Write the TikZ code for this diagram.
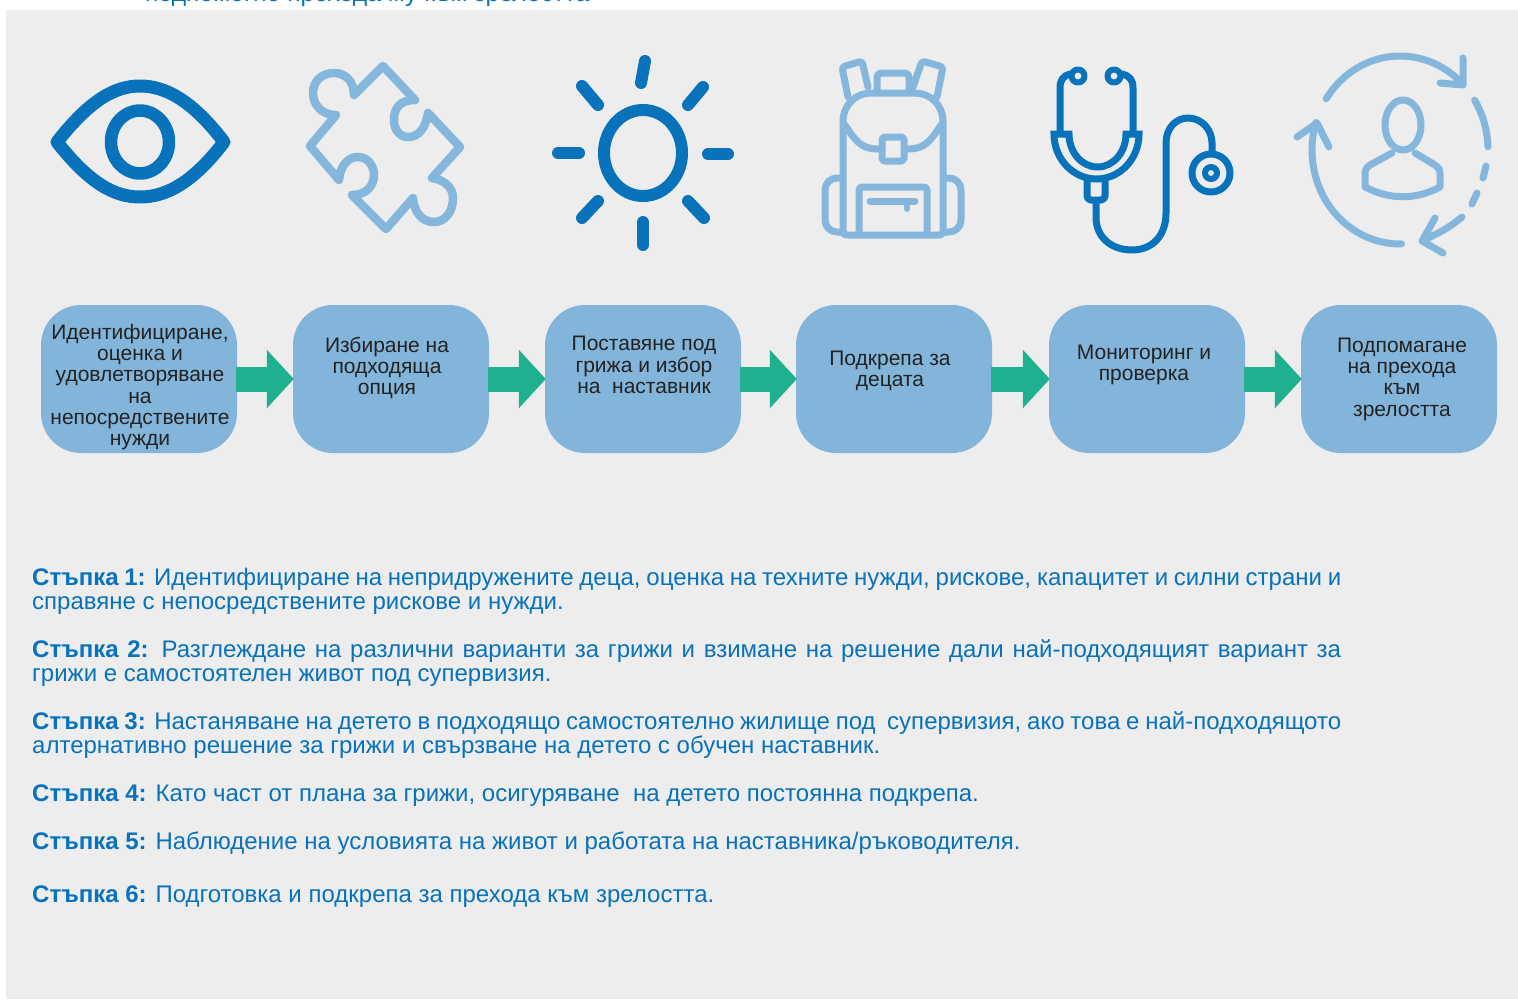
\documentclass[tikz,border=0pt]{standalone}
\usepackage{fontspec}
\setmainfont{Liberation Sans}
\usetikzlibrary{arrows.meta}
\definecolor{panelgray}{HTML}{EDEDED}
\definecolor{iconblue}{HTML}{0872BA}
\definecolor{iconlight}{HTML}{85B7DD}
\definecolor{boxblue}{HTML}{83B5DB}
\definecolor{flowgreen}{HTML}{1FB08F}
\definecolor{boxink}{HTML}{222222}
\tikzset{
  flowbox/.style={fill=boxblue, rounded corners=40pt, minimum width=196pt, minimum height=148pt, inner sep=0pt},
  flowlabel/.style={text=boxink, align=center, inner sep=0pt, font=\fontsize{21}{21.3}\selectfont},
  steptext/.style={text=iconblue, align=left, inner sep=0pt, anchor=north west, font=\fontsize{24}{24}\selectfont},
  flowarrow/.style={-{Triangle[length=27pt, width=57pt]}, line width=25pt, flowgreen, shorten <=-1pt, shorten >=-1pt},
  darkline/.style={iconblue, line width=7pt, line cap=round, line join=round},
  lightline/.style={iconlight, line width=7pt, line cap=round, line join=round},
}
\newcommand{\stepline}[1]{\makebox[1309pt][s]{#1}}
\begin{document}
\begin{tikzpicture}[x=1pt, y=-1pt]
        \useasboundingbox (0,0) rectangle (1518,999);
        % Draw the panel
        \fill[panelgray] (6,10) rectangle (1518,999);
        % Draw the cut-off line above the panel
        \node[anchor=base west, text=iconblue, inner sep=0pt, font=\fontsize{24.7}{24}\selectfont] (topline) at (145,1) {подпомогне прехода му към зрелостта};
        % Draw the eye
        \draw[darkline, line width=13pt] (57,142) .. controls (90,100) and (115,86) .. (140,86) .. controls (165,86) and (192,100) .. (224,142) .. controls (192,184) and (165,197) .. (140,197) .. controls (115,197) and (90,184) .. (57,142) -- cycle;
        \draw[darkline, line width=12.5pt] (140,142) ellipse (29 and 31.5);
        % Draw the puzzle piece
        \draw[lightline, line width=8.5pt] (354,95) -- (383,66) -- (415,100) .. controls (400,100) and (394,108) .. (394,120) .. controls (394,130) and (400,137) .. (408,137) .. controls (420,137) and (426,126) .. (428,113) -- (460,147) -- (432,178) .. controls (445,180) and (453,188) .. (453,198) .. controls (453,212) and (445,222) .. (434,222) .. controls (422,222) and (414,212) .. (413,198) -- (386,229) -- (352,195) .. controls (366,195) and (374,186) .. (374,175) .. controls (374,165) and (367,157) .. (358,157) .. controls (347,157) and (340,167) .. (339,180) -- (310,146) -- (336,115) .. controls (322,115) and (313,105) .. (313,93) .. controls (313,81) and (322,73) .. (334,73) .. controls (346,73) and (354,82) .. (354,95);
        % Draw the sun
        \draw[darkline, line width=12pt] (643,153) ellipse (39 and 43);
        \foreach \xa/\ya/\xb/\yb in {645/61/641/83, 582/86/598/105, 703/87/688/105, 558/153/579/153, 708/154/728/154, 598/201/582/218, 688/201/704/218, 643/222/643/245}{
            \draw[darkline, line width=12pt] (\xa,\ya) -- (\xb,\yb);
        }
        % Draw the backpack
        \draw[lightline] (843,232) -- (843,122) .. controls (843,105) and (855,93) .. (872,93) -- (914,93) .. controls (931,93) and (943,105) .. (943,122) -- (943,232) .. controls (943,235) and (940,235) .. (938,235) -- (848,235) .. controls (845,235) and (843,235) .. (843,232);
        \draw[lightline] (845,125) .. controls (856,142) and (862,149) .. (878,149) -- (882,149);
        \draw[lightline] (904,149) -- (908,149) .. controls (924,149) and (930,142) .. (941,125);
        \draw[lightline, rounded corners=3pt] (882,137) rectangle (904,161);
        \draw[lightline, rounded corners=4pt] (877,90) -- (877,73) -- (909,73) -- (909,90);
        \draw[lightline, rounded corners=3pt] (848,97) -- (842,67) -- (862,61) -- (868,87);
        \draw[lightline, rounded corners=3pt] (913,87) -- (922,61) -- (943,67) -- (937,97);
        \draw[lightline, rounded corners=12pt] (842,178) -- (825,178) -- (825,232) -- (842,232);
        \draw[lightline, rounded corners=12pt] (945,178) -- (961,178) -- (961,232) -- (945,232);
        \draw[lightline, rounded corners=3pt] (859,232) -- (859,187) -- (927,187) -- (927,232);
        \draw[lightline] (870,201) -- (915,201);
        \draw[lightline, line width=6pt] (907,201) -- (907,209);
        % Draw the stethoscope
        \draw[darkline, line width=6pt] (1078,76) circle (6.5);
        \draw[darkline, line width=6pt] (1114,76) circle (6.5);
        \draw[darkline] (1070,74) .. controls (1063,76) and (1060,80) .. (1060,88) -- (1060,132);
        \draw[darkline] (1122,74) .. controls (1130,76) and (1133,80) .. (1133,88) -- (1133,132);
        \draw[darkline, line join=miter, line cap=butt] (1069,134) -- (1054,134) arc[start angle=180, end angle=0, x radius=42.5, y radius=45] -- (1126,134) arc[start angle=0, end angle=180, x radius=28.5, y radius=33] -- cycle;
        \draw[darkline, rounded corners=4pt] (1087,182) -- (1087,200) -- (1105,200) -- (1105,182);
        \draw[darkline] (1096,203) -- (1096,217) .. controls (1096,238) and (1112,250) .. (1132,250) .. controls (1152,250) and (1166,236) .. (1166,213) -- (1166,143) .. controls (1166,128) and (1176,118) .. (1188,118) .. controls (1202,118) and (1212,130) .. (1212,143) -- (1212,152);
        \draw[darkline] (1211,173) circle (19);
        \draw[darkline, line width=6pt] (1211,173) circle (6);
        % Draw the cycle of arrows round the person
        \draw[lightline] (1400,150) ++(-147:88 and 94) arc[start angle=-147, end angle=-47, x radius=88, y radius=94];
        \draw[lightline] (1463,58) -- (1463,85) -- (1440,83);
        \draw[lightline] (1400,150) ++(-32:88 and 94) arc[start angle=-32, end angle=-2, x radius=88, y radius=94];
        \draw[lightline] (1486,166) -- (1483,178);
        \draw[lightline] (1477,193) -- (1472,204);
        \draw[lightline] (1462,217) .. controls (1450,227) and (1438,234) .. (1423,240);
        \draw[lightline] (1435,218) -- (1422,241) -- (1443,253);
        \draw[lightline] (1400,150) ++(89:88 and 94) arc[start angle=89, end angle=197, x radius=88, y radius=94];
        \draw[lightline] (1297,137) -- (1317,123) -- (1329,147);
        % Draw the person
        \draw[lightline] (1403,125) ellipse (18 and 25);
        \draw[lightline] (1392,153) -- (1370,165) .. controls (1366,168) and (1365,170) .. (1365,174) -- (1365,187) .. controls (1390,200) and (1416,200) .. (1440,187) -- (1440,174) .. controls (1440,170) and (1439,168) .. (1435,165) -- (1415,153);
        % Draw the boxes and their texts
        \foreach \n/\x/\dx/\dy/\txt in {
            1/139/1/8/{Идентифициране,\\оценка и\\удовлетворяване\\на\\непосредствените\\нужди},
            2/391/-4/-11/{Избиране на\\подходяща\\опция},
            3/643/1/-14/{Поставяне под\\грижа и избор\\на\ \ наставник},
            4/894/-4/-8/{Подкрепа за\\децата},
            5/1147/-3/-14/{Мониторинг и\\проверка},
            6/1399/3/0/{Подпомагане\\на прехода\\към\\зрелостта}}{
            \node[flowbox] (box\n) at (\x,379) {};
            \node[flowlabel] (label\n) at ([xshift=\dx pt, yshift=-\dy pt]box\n.center) {\txt};
        }
        % Draw the arrows between the boxes
        \foreach \a/\b in {1/2,2/3,3/4,4/5,5/6}{
            \draw[flowarrow] (box\a) -- (box\b);
        }
        % Draw the steps
        \node[steptext] (step1) at (32,568) {\stepline{\textbf{Стъпка 1:} Идентифициране на непридружените деца, оценка на техните нужди, рискове, капацитет и силни страни и}\\справяне с непосредствените рискове и нужди.};
        \node[steptext] (step2) at (32,639) {\stepline{\textbf{Стъпка 2:} Разглеждане на различни варианти за грижи и взимане на решение дали най-подходящият вариант за}\\грижи е самостоятелен живот под супервизия.};
        \node[steptext] (step3) at (32,711) {\stepline{\textbf{Стъпка 3:} Настаняване на детето в подходящо самостоятелно жилище под\ \ супервизия, ако това е най-подходящото}\\алтернативно решение за грижи и свързване на детето с обучен наставник.};
        \node[steptext] (step4) at (32,785) {\textbf{Стъпка 4:} Като част от плана за грижи, осигуряване\ \ на детето постоянна подкрепа.};
        \node[steptext] (step5) at (32,832) {\textbf{Стъпка 5:} Наблюдение на условията на живот и работата на наставника/ръководителя.};
        \node[steptext] (step6) at (32,886) {\textbf{Стъпка 6:} Подготовка и подкрепа за прехода към зрелостта.};
    \end{tikzpicture}
\end{document}
